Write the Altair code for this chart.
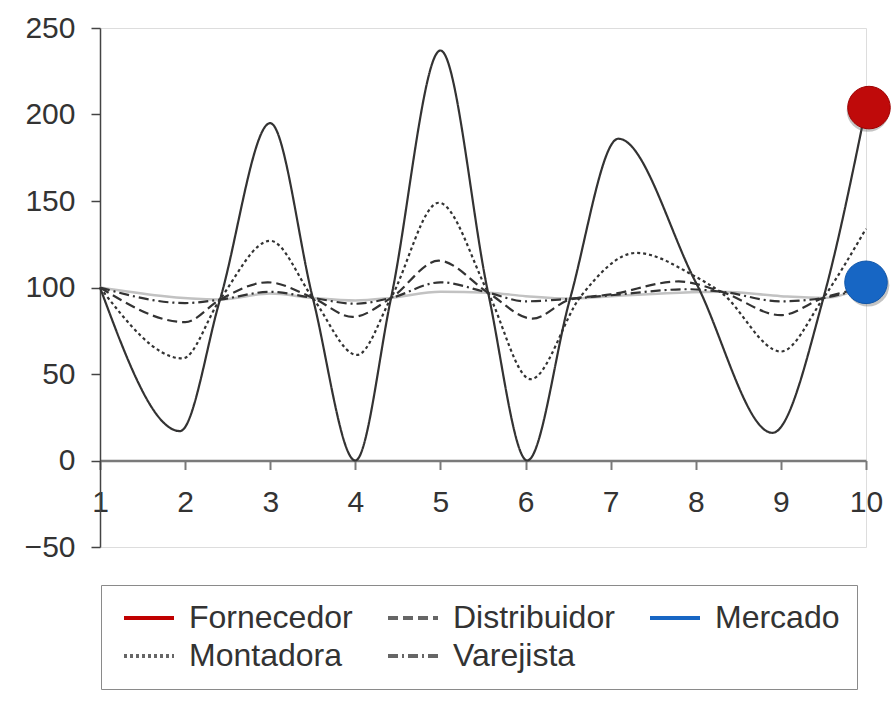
import altair as alt
import pandas as pd

# ---- data ----
# order in which the legend fills its columns (column by column, 2 rows)
series_names = ["Fornecedor", "Montadora", "Distribuidor", "Varejista", "Mercado"]

fornecedor_x = [1, 1.94, 2.41, 3.0, 3.5, 4.0, 4.42, 5.0, 5.56, 6.02, 6.52, 7.09, 8.0, 8.9, 9.5, 10]
fornecedor_y = [100, 17, 93, 195, 94, 0, 94, 237, 97, 0, 93, 186, 103, 16, 94, 204]

montadora_x = [1, 1.97, 2.41, 3.0, 3.5, 4.02, 4.42, 4.98, 5.56, 6.06, 6.65, 7.3, 7.97, 8.3, 9.0, 9.5, 10]
montadora_y = [100, 59, 93, 127, 94, 61, 94, 149, 97, 47, 95, 120, 107, 97, 63, 94, 134]

distribuidor_x = [1, 2.0, 2.41, 2.97, 3.5, 3.97, 4.42, 4.98, 5.56, 6.08, 6.52, 7.0, 7.8, 8.3, 9.0, 9.5, 10]
distribuidor_y = [100, 80, 93, 103, 94, 83, 94, 115.5, 97, 82, 93, 96, 103.5, 97.6, 84, 94, 100]

varejista_x = [1, 2.0, 2.41, 3.0, 3.5, 4.0, 4.42, 5.0, 5.56, 6.0, 6.52, 7.0, 7.9, 8.3, 9.0, 9.5, 10]
varejista_y = [100, 91, 93, 97.5, 94, 90.6, 94, 103, 97, 92, 93.5, 95.5, 99, 97.6, 92, 94, 100]

mercado_x = [1, 2.41, 3.0, 3.5, 4.0, 4.42, 5.0, 5.56, 6.0, 6.52, 7.0, 8.3, 9.0, 9.5, 10]
mercado_y = [100, 93, 96.5, 94, 92.5, 94, 97.5, 97, 95, 93.5, 95, 97.6, 95, 94, 101]

marker_series = ["Fornecedor", "Mercado"]
marker_x = [10, 10]
marker_y = [204, 103]

x_ticks = [1, 2, 3, 4, 5, 6, 7, 8, 9, 10]
y_ticks = [-50, 0, 50, 100, 150, 200, 250]

# ---- tables ----
rows = []
for name, xs, ys in [
    ("Fornecedor", fornecedor_x, fornecedor_y),
    ("Montadora", montadora_x, montadora_y),
    ("Distribuidor", distribuidor_x, distribuidor_y),
    ("Varejista", varejista_x, varejista_y),
    ("Mercado", mercado_x, mercado_y),
]:
    for xv, yv in zip(xs, ys):
        rows.append({"serie": name, "t": xv, "v": yv})
df = pd.DataFrame(rows)
markers = pd.DataFrame({"serie": marker_series, "t": marker_x, "v": marker_y})

FONT = "Liberation Sans"
W, H = 766, 519

x_enc = alt.X(
    "t:Q",
    scale=alt.Scale(domain=[1, 10], nice=False, zero=False),
    axis=alt.Axis(
        values=x_ticks, offset=-86.5, title=None, grid=False,
        domainColor="#7a7a7a", domainWidth=2.5, tickColor="#7a7a7a", tickWidth=2,
        tickSize=9, labelFontSize=30, labelFont=FONT, labelColor="#333333",
        labelPadding=18, labelFlush=False, labelOverlap=False, format="d",
    ),
)
y_enc = alt.Y(
    "v:Q",
    scale=alt.Scale(domain=[-50, 250], nice=False, zero=False),
    axis=alt.Axis(
        values=y_ticks, title=None, grid=False,
        domainColor="#444444", domainWidth=1.5, tickColor="#444444", tickWidth=1.5,
        tickSize=9, labelFontSize=30, labelFont=FONT, labelColor="#333333",
        labelPadding=16, format="d",
    ),
)

# same order as series_names
dash_range = [[1, 0], [3, 3], [10, 5], [10, 4, 2, 4], [1, 0]]
legend_colors = ["#c00000", "#666666", "#666666", "#666666", "#1766c4"]

base = alt.Chart(df)

leg = alt.Legend(
    title=None, orient="none", legendX=1, legendY=557, columns=3,
    symbolType="M-2.5,0H2.5", symbolSize=400, symbolStrokeWidth=4,
    symbolOffset=15, labelOffset=24,
    labelFontSize=32, labelFont=FONT, labelColor="#333333", labelLimit=500,
    columnPadding=27, rowPadding=6,
    padding=17, strokeColor="#8a8a8a", fillColor="white",
)

# legend carrier: drawn thin underneath the visible lines
legend_layer = base.transform_calculate(legenda="datum.serie").mark_line(
    interpolate="monotone", strokeWidth=0.4
).encode(
    x=x_enc, y=y_enc,
    color=alt.Color(
        "legenda:N",
        scale=alt.Scale(domain=series_names, range=legend_colors),
        legend=leg,
    ),
    strokeDash=alt.StrokeDash(
        "legenda:N", scale=alt.Scale(domain=series_names, range=dash_range), legend=leg
    ),
)

mercado_line = base.transform_filter(alt.datum.serie == "Mercado").mark_line(
    interpolate="monotone", strokeWidth=2.5, color="#c2c2c2"
).encode(x=x_enc, y=y_enc, detail="serie:N")

other_lines = base.transform_filter(alt.datum.serie != "Mercado").mark_line(
    interpolate="monotone", strokeWidth=2.2, color="#333333"
).encode(
    x=x_enc, y=y_enc,
    strokeDash=alt.StrokeDash(
        "serie:N", scale=alt.Scale(domain=series_names, range=dash_range), legend=None
    ),
)

mk = alt.Chart(markers)
shadow = mk.mark_point(shape="circle", filled=True, size=1810, color="#555555",
                       opacity=0.35, xOffset=2, yOffset=3).encode(x=x_enc, y=y_enc)
red_dot = mk.transform_filter(alt.datum.serie == "Fornecedor").mark_point(
    shape="circle", filled=True, size=1810, color="#bf0a0a", opacity=1,
    stroke="#9e0000", strokeWidth=1, xOffset=3,
).encode(x=x_enc, y=y_enc)
blue_dot = mk.transform_filter(alt.datum.serie == "Mercado").mark_point(
    shape="circle", filled=True, size=1810, color="#1766c4", opacity=1,
    stroke="#0f55a8", strokeWidth=1,
).encode(x=x_enc, y=y_enc)

chart = alt.layer(
    legend_layer, mercado_line, other_lines, shadow, red_dot, blue_dot
).resolve_scale(
    color="independent", strokeDash="independent"
).properties(
    width=W, height=H,
    autosize=alt.AutoSizeParams(type="none"),
    padding={"left": 100, "top": 28, "right": 29, "bottom": 155},
).configure_view(stroke="transparent", strokeWidth=0).configure(background="white")

chart.save("out.html", embed_options={"renderer": "svg", "actions": False})
